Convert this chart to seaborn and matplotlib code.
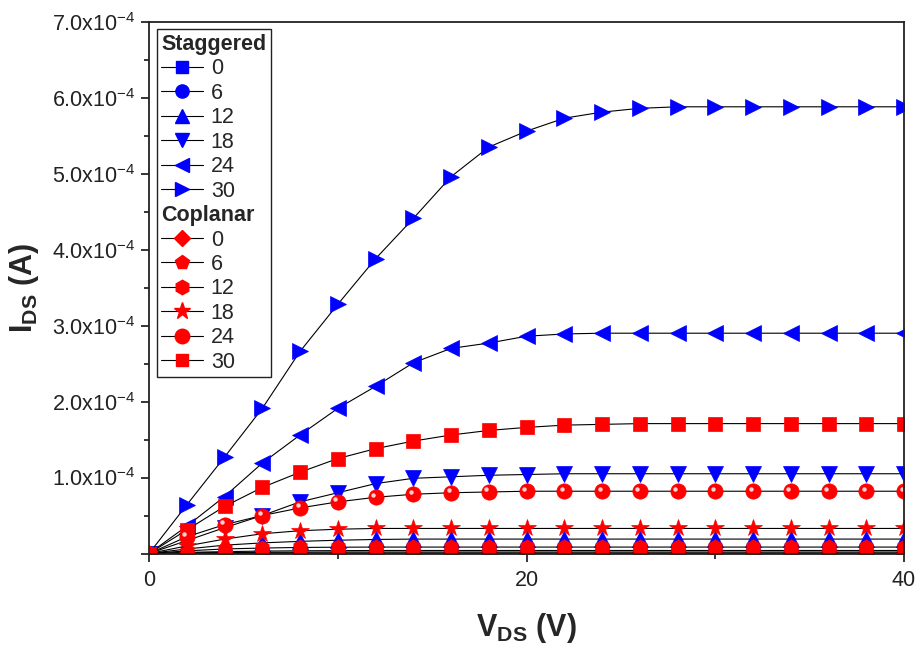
import numpy as np
import pandas as pd
import matplotlib
matplotlib.use("Agg")
import matplotlib.pyplot as plt
import seaborn as sns
from matplotlib.lines import Line2D
from matplotlib.ticker import MultipleLocator, FuncFormatter
from matplotlib.transforms import offset_copy

# Drain voltage sweep (V)
vds = [0, 2, 4, 6, 8, 10, 12, 14, 16, 18, 20, 22, 24, 26, 28, 30, 32, 34, 36, 38, 40]

# Drain current in units of 1e-4 A, one list per gate bias
stag_0 = [0, 0.002, 0.003, 0.004, 0.005, 0.005, 0.005, 0.005, 0.005, 0.005, 0.005,
          0.005, 0.005, 0.005, 0.005, 0.005, 0.005, 0.005, 0.005, 0.005, 0.005]
stag_6 = [0, 0.015, 0.025, 0.032, 0.036, 0.038, 0.04, 0.04, 0.04, 0.04, 0.04,
          0.04, 0.04, 0.04, 0.04, 0.04, 0.04, 0.04, 0.04, 0.04, 0.04]
stag_12 = [0, 0.06, 0.11, 0.14, 0.16, 0.175, 0.185, 0.19, 0.19, 0.19, 0.19,
           0.19, 0.19, 0.19, 0.19, 0.19, 0.19, 0.19, 0.19, 0.19, 0.19]
stag_18 = [0, 0.17, 0.34, 0.50, 0.68, 0.80, 0.92, 0.99, 1.01, 1.03, 1.04,
           1.05, 1.05, 1.05, 1.05, 1.05, 1.05, 1.05, 1.05, 1.05, 1.05]
stag_24 = [0, 0.36, 0.75, 1.19, 1.56, 1.91, 2.20, 2.51, 2.70, 2.77, 2.86,
           2.89, 2.90, 2.90, 2.90, 2.90, 2.90, 2.90, 2.90, 2.90, 2.90]
stag_30 = [0, 0.64, 1.27, 1.91, 2.66, 3.28, 3.88, 4.41, 4.96, 5.35, 5.56,
           5.73, 5.81, 5.86, 5.88, 5.88, 5.88, 5.88, 5.88, 5.88, 5.88]

cop_0 = [0, 0.001, 0.002, 0.003, 0.003, 0.003, 0.003, 0.003, 0.003, 0.003, 0.003,
         0.003, 0.003, 0.003, 0.003, 0.003, 0.003, 0.003, 0.003, 0.003, 0.003]
cop_6 = [0, 0.008, 0.013, 0.016, 0.018, 0.02, 0.02, 0.02, 0.02, 0.02, 0.02,
         0.02, 0.02, 0.02, 0.02, 0.02, 0.02, 0.02, 0.02, 0.02, 0.02]
cop_12 = [0, 0.035, 0.06, 0.072, 0.08, 0.083, 0.085, 0.085, 0.085, 0.085, 0.085,
          0.085, 0.085, 0.085, 0.085, 0.085, 0.085, 0.085, 0.085, 0.085, 0.085]
cop_18 = [0, 0.10, 0.19, 0.26, 0.30, 0.32, 0.33, 0.33, 0.33, 0.33, 0.33,
          0.33, 0.33, 0.33, 0.33, 0.33, 0.33, 0.33, 0.33, 0.33, 0.33]
cop_24 = [0, 0.22, 0.38, 0.50, 0.60, 0.68, 0.74, 0.78, 0.80, 0.81, 0.82,
          0.82, 0.82, 0.82, 0.82, 0.82, 0.82, 0.82, 0.82, 0.82, 0.82]
cop_30 = [0, 0.31, 0.62, 0.87, 1.07, 1.25, 1.38, 1.48, 1.56, 1.62, 1.66,
          1.69, 1.70, 1.71, 1.71, 1.71, 1.71, 1.71, 1.71, 1.71, 1.71]

gate_labels = ["0", "6", "12", "18", "24", "30"]
staggered = [stag_0, stag_6, stag_12, stag_18, stag_24, stag_30]
coplanar = [cop_0, cop_6, cop_12, cop_18, cop_24, cop_30]

sns.set_style("ticks")
plt.rcParams["font.family"] = ["Liberation Sans", "DejaVu Sans"]
plt.rcParams["mathtext.fontset"] = "custom"
plt.rcParams["mathtext.rm"] = "Liberation Sans"
plt.rcParams["mathtext.bf"] = "Liberation Sans:bold"

BLUE = "#0000FF"
RED = "#FF0000"

stag_style = [("s", 9), ("o", 10), ("^", 11), ("v", 11), ("<", 11), (">", 11)]
cop_style = [("D", 9), ("p", 11), ("h", 11), ("*", 13), ("o", 11), ("s", 9.5)]

fig = plt.figure(figsize=(9.21, 6.48), dpi=100)
ax = fig.add_axes([0.1618, 0.1458, 0.8198, 0.8207])

handles = [Line2D([], [], linestyle="none", marker="none", label="Staggered")]
for lab, ys, (mk, ms) in zip(gate_labels, staggered, stag_style):
    df = pd.DataFrame({"VDS": vds, "IDS": np.array(ys) * 1e-4})
    sns.lineplot(data=df, x="VDS", y="IDS", ax=ax, color="black", lw=0.8,
                 marker=mk, ms=ms, markerfacecolor=BLUE, markeredgecolor=BLUE,
                 markeredgewidth=0.5, zorder=3)
    handles.append(Line2D([], [], color="black", lw=0.8, marker=mk, ms=ms * 0.95,
                          markerfacecolor=BLUE, markeredgecolor=BLUE, label=lab))

handles.append(Line2D([], [], linestyle="none", marker="none", label="Coplanar"))
for lab, ys, (mk, ms) in zip(gate_labels, coplanar, cop_style):
    df = pd.DataFrame({"VDS": vds, "IDS": np.array(ys) * 1e-4})
    sns.lineplot(data=df, x="VDS", y="IDS", ax=ax, color="black", lw=0.8,
                 marker=mk, ms=ms, markerfacecolor=RED, markeredgecolor=RED,
                 markeredgewidth=0.5, zorder=4)
    handles.append(Line2D([], [], color="black", lw=0.8, marker=mk, ms=ms * 0.95,
                          markerfacecolor=RED, markeredgecolor=RED, label=lab))
    if lab == "24":
        # glossy highlight on the sphere markers
        shine = offset_copy(ax.transData, fig=fig, x=-1.8, y=1.8, units="points")
        ax.plot(vds, np.array(ys) * 1e-4, transform=shine, linestyle="none",
                marker="o", ms=3.2, markerfacecolor="#ffd0d0",
                markeredgecolor="none", zorder=5)

ax.set_xlim(0, 40)
ax.set_ylim(0, 7e-4)
ax.xaxis.set_major_locator(MultipleLocator(20))
ax.xaxis.set_minor_locator(MultipleLocator(10))
ax.yaxis.set_major_locator(MultipleLocator(1e-4))
ax.yaxis.set_minor_locator(MultipleLocator(0.5e-4))


def sci_label(v, pos):
    if abs(v) < 1e-12:
        return ""
    return r"$\mathregular{%.1fx10^{-4}}$" % (v / 1e-4)


ax.yaxis.set_major_formatter(FuncFormatter(sci_label))
ax.tick_params(axis="both", which="major", direction="out", length=6, width=1.1,
               labelsize=15.5, color="black", labelcolor="#222222")
ax.tick_params(axis="both", which="minor", direction="out", length=3.5, width=1.1,
               color="black")
ax.tick_params(top=False, right=False, which="both")
ax.tick_params(axis="x", pad=6)

for sp in ax.spines.values():
    sp.set_visible(True)
    sp.set_linewidth(1.3)
    sp.set_color("#222222")
    sp.set_zorder(6)

ax.set_xlabel(r"$\mathbf{V_{DS}}$ (V)", fontsize=22, fontweight="bold", labelpad=14)
ax.set_ylabel(r"$\mathbf{I_{DS}}$ (A)", fontsize=22, fontweight="bold", labelpad=8)

leg = ax.legend(handles=handles, loc="upper left", fontsize=15.5, frameon=True,
                fancybox=False, framealpha=1, edgecolor="#222222",
                borderaxespad=0.35, borderpad=0.22, labelspacing=0.16,
                handlelength=1.95, handletextpad=0.35)
leg.get_frame().set_linewidth(1.0)
leg.set_zorder(7)

# section headers: drop the handle slot and set them in bold
header_idx = {0, 7}
rows = []
for col in leg._legend_handle_box.get_children():
    rows.extend(col.get_children())
for i, hp in enumerate(rows):
    if i in header_idx:
        da, ta = hp.get_children()
        da.set_width(0)
        hp.sep = 0
        ta._text.set_fontweight("bold")

fig.savefig("out.png", dpi=100)
